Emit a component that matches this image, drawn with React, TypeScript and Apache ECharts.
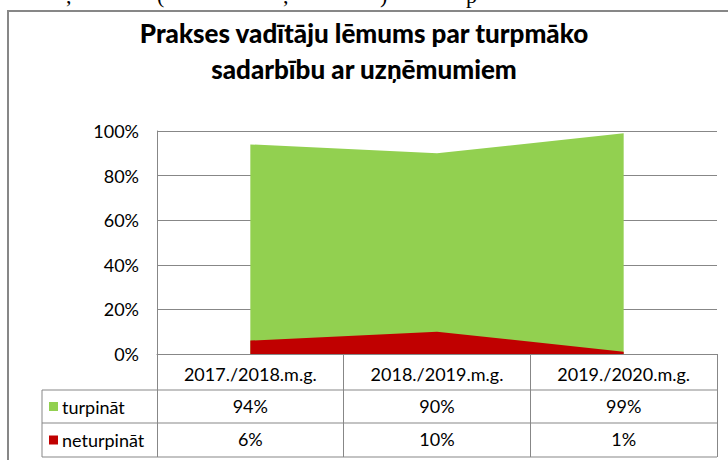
import React, { useEffect, useRef } from "react";
import * as echarts from "echarts";

const title = "Prakses vadītāju lēmums par turpmāko\nsadarbību ar uzņēmumiem";
const categories = ["2017./2018.m.g.", "2018./2019.m.g.", "2019./2020.m.g."];
const seriesNames = ["turpināt", "neturpināt"];
const turpinat = [94, 90, 99];
const neturpinat = [6, 10, 1];
const yTicks = [0, 20, 40, 60, 80, 100];
const topFragments = [",", "(", ",", ")", "p"];

const GREEN = "#92D050";
const RED = "#C00000";
const GRAY = "#878787";
const FONT = "Lato, 'Noto Sans', sans-serif";

export default function App() {
  const ref = useRef<HTMLDivElement>(null);
  useEffect(() => {
    if (!ref.current) return;
    const chart = echarts.init(ref.current, null, { renderer: "svg" });
    const fragX = [66, 157, 283, 380, 466];
    const left = 157, right = 717, top = 131, axisY = 354;
    const tableLeft = 42;
    const rowLines = [390, 423, 457];
    const graphics: any[] = [
      {
        type: "rect",
        shape: { x: 8, y: 11, width: 760, height: 480 },
        style: { fill: "none", stroke: GRAY, lineWidth: 2 },
        silent: true,
      },
      ...topFragments.map((t, i) => ({
        type: "text",
        x: fragX[i],
        y: -5,
        style: { text: t, font: "22px 'Liberation Serif', serif", fill: "#000", verticalAlign: "middle" },
      })),
      ...rowLines.map((y) => ({
        type: "line",
        shape: { x1: tableLeft, y1: y, x2: right, y2: y },
        style: { stroke: GRAY, lineWidth: 1 },
      })),
      {
        type: "line",
        shape: { x1: tableLeft, y1: rowLines[0], x2: tableLeft, y2: rowLines[2] },
        style: { stroke: GRAY, lineWidth: 1 },
      },
      ...seriesNames.flatMap((n, i) => {
        const cy = (rowLines[i] + rowLines[i + 1]) / 2;
        return [
          {
            type: "rect",
            shape: { x: 49, y: cy - 4.5, width: 9, height: 9 },
            style: { fill: i === 0 ? GREEN : RED },
          },
          {
            type: "text",
            x: 62,
            y: cy,
            style: { text: n, font: `18px ${FONT}`, fill: "#000", verticalAlign: "middle" },
          },
        ];
      }),
    ];
    const label = { interval: 0, margin: 11, fontSize: 18, fontFamily: FONT, color: "#000" };
    chart.setOption({
      animation: false,
      title: {
        text: title,
        left: "center",
        top: 10,
        textStyle: { fontFamily: FONT, fontSize: 26, fontWeight: 900, color: "#000", lineHeight: 36 },
      },
      grid: { left, right: 728 - right, top, bottom: 460 - axisY, containLabel: false },
      xAxis: [
        {
          type: "category",
          data: categories,
          boundaryGap: true,
          axisLine: { show: true, lineStyle: { color: GRAY } },
          axisTick: { show: true, interval: 0, length: 103, lineStyle: { color: GRAY } },
          axisLabel: label,
        },
        {
          type: "category",
          data: turpinat.map((v) => v + "%"),
          position: "bottom",
          offset: 32,
          axisLine: { show: false },
          axisTick: { show: false },
          axisLabel: label,
        },
        {
          type: "category",
          data: neturpinat.map((v) => v + "%"),
          position: "bottom",
          offset: 65,
          axisLine: { show: false },
          axisTick: { show: false },
          axisLabel: label,
        },
      ],
      yAxis: {
        type: "value",
        min: yTicks[0],
        max: yTicks[yTicks.length - 1],
        interval: 20,
        axisLine: { show: true, lineStyle: { color: GRAY } },
        axisTick: { show: false },
        splitLine: { lineStyle: { color: GRAY } },
        axisLabel: { formatter: "{value}%", margin: 18, fontSize: 18, fontFamily: FONT, color: "#000" },
      },
      series: [
        {
          name: seriesNames[0],
          type: "line",
          data: turpinat,
          showSymbol: false,
          lineStyle: { width: 0 },
          areaStyle: { color: GREEN, opacity: 1 },
          itemStyle: { color: GREEN },
          z: 2,
        },
        {
          name: seriesNames[1],
          type: "line",
          data: neturpinat,
          showSymbol: false,
          lineStyle: { width: 0 },
          areaStyle: { color: RED, opacity: 1 },
          itemStyle: { color: RED },
          z: 3,
        },
      ],
      graphic: graphics,
    });
    return () => chart.dispose();
  }, []);
  return (
    <div
      ref={ref}
      style={{ position: "fixed", left: 0, top: 0, width: 728, height: 460, background: "#fff" }}
    />
  );
}
